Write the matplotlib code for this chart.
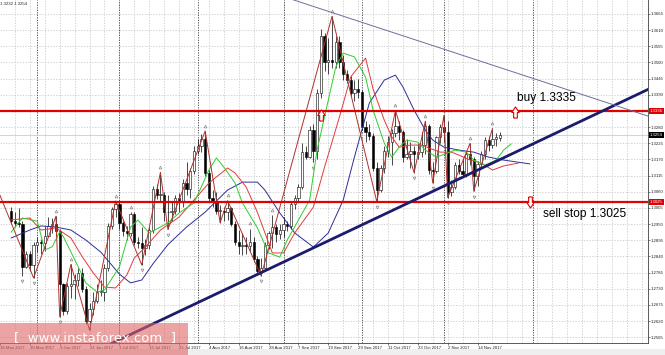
import numpy as np
import matplotlib

matplotlib.use("Agg")
import matplotlib.pyplot as plt
from matplotlib.path import Path
from matplotlib.patches import Rectangle
import matplotlib.transforms as mtransforms

# --- daily candles, 23 May 2017 .. 22 Nov 2017 (bar index 0..131) ---
opens = [1.2995, 1.2960, 1.2955, 1.2950, 1.2805, 1.2850, 1.2810, 1.2880, 1.2890, 1.2885,
         1.2910, 1.2945, 1.2950, 1.2925, 1.2745, 1.2655, 1.2740, 1.2745, 1.2760, 1.2785,
         1.2730, 1.2620, 1.2660, 1.2690, 1.2720, 1.2720, 1.2800, 1.2945, 1.3000, 1.3020,
         1.2955, 1.2925, 1.2920, 1.2985, 1.2890, 1.2885, 1.2870, 1.2880, 1.2930, 1.3070,
         1.3050, 1.3050, 1.2990, 1.2990, 1.2995, 1.3040, 1.3030, 1.3090, 1.3070, 1.3130,
         1.3200, 1.3215, 1.3240, 1.3125, 1.3040, 1.3030, 1.2995, 1.2995, 1.2990, 1.3005,
         1.2950, 1.2890, 1.2875, 1.2880, 1.2875, 1.2890, 1.2830, 1.2790, 1.2800, 1.2880,
         1.2920, 1.2940, 1.2915, 1.2930, 1.2950, 1.2945, 1.3020, 1.3040, 1.3075, 1.3195,
         1.3180, 1.3270, 1.3200, 1.3395, 1.3590, 1.3500, 1.3510, 1.3500, 1.3570, 1.3500,
         1.3460, 1.3440, 1.3395, 1.3410, 1.3400, 1.3280, 1.3265, 1.3250, 1.3140, 1.3065,
         1.3140, 1.3200, 1.3230, 1.3260, 1.3285, 1.3265, 1.3180, 1.3190, 1.3200, 1.3190,
         1.3195, 1.3220, 1.3285, 1.3135, 1.3130, 1.3245, 1.3280, 1.3265, 1.3060, 1.3075,
         1.3150, 1.3130, 1.3120, 1.3190, 1.3170, 1.3115, 1.3155, 1.3190, 1.3235, 1.3220,
         1.3240, 1.3244]
highs = [1.3010, 1.2990, 1.3005, 1.2960, 1.2860, 1.2860, 1.2890, 1.2905, 1.2900, 1.2945,
         1.2975, 1.2970, 1.2977, 1.2935, 1.2750, 1.2750, 1.2813, 1.2780, 1.2800, 1.2800,
         1.2740, 1.2680, 1.2720, 1.2745, 1.2760, 1.2815, 1.2955, 1.3010, 1.3029, 1.3030,
         1.2960, 1.2945, 1.2992, 1.2990, 1.2905, 1.2940, 1.2900, 1.2940, 1.3080, 1.3085,
         1.3126, 1.3060, 1.3050, 1.3030, 1.3050, 1.3055, 1.3105, 1.3160, 1.3140, 1.3215,
         1.3240, 1.3255, 1.3267, 1.3135, 1.3065, 1.3060, 1.3015, 1.3010, 1.3030, 1.3010,
         1.2960, 1.2930, 1.2920, 1.2905, 1.2935, 1.2905, 1.2840, 1.2835, 1.2890, 1.2925,
         1.2980, 1.2950, 1.2950, 1.2975, 1.2960, 1.3025, 1.3050, 1.3085, 1.3225, 1.3215,
         1.3285, 1.3290, 1.3410, 1.3615, 1.3600, 1.3585, 1.3657, 1.3590, 1.3590, 1.3525,
         1.3475, 1.3455, 1.3440, 1.3445, 1.3405, 1.3300, 1.3290, 1.3260, 1.3160, 1.3150,
         1.3215, 1.3250, 1.3275, 1.3337, 1.3300, 1.3270, 1.3240, 1.3230, 1.3215, 1.3225,
         1.3265, 1.3300, 1.3290, 1.3160, 1.3250, 1.3290, 1.3320, 1.3300, 1.3100, 1.3160,
         1.3170, 1.3175, 1.3200, 1.3225, 1.3180, 1.3165, 1.3200, 1.3245, 1.3250, 1.3275,
         1.3260, 1.3264]
lows = [1.2950, 1.2940, 1.2940, 1.2775, 1.2800, 1.2790, 1.2767, 1.2855, 1.2850, 1.2860,
        1.2905, 1.2920, 1.2910, 1.2635, 1.2640, 1.2645, 1.2700, 1.2695, 1.2740, 1.2720,
        1.2610, 1.2589, 1.2640, 1.2680, 1.2705, 1.2690, 1.2790, 1.2935, 1.2975, 1.2935,
        1.2910, 1.2895, 1.2910, 1.2880, 1.2870, 1.2811, 1.2845, 1.2865, 1.2920, 1.3035,
        1.3030, 1.2960, 1.2932, 1.2960, 1.2985, 1.2990, 1.3010, 1.3050, 1.3040, 1.3120,
        1.3190, 1.3195, 1.3115, 1.3030, 1.3010, 1.2985, 1.2955, 1.2960, 1.2965, 1.2945,
        1.2880, 1.2850, 1.2845, 1.2850, 1.2860, 1.2820, 1.2776, 1.2774, 1.2790, 1.2865,
        1.2870, 1.2890, 1.2900, 1.2905, 1.2925, 1.2935, 1.3000, 1.3030, 1.3070, 1.3170,
        1.3175, 1.3160, 1.3170, 1.3380, 1.3470, 1.3460, 1.3480, 1.3480, 1.3480, 1.3440,
        1.3430, 1.3385, 1.3370, 1.3380, 1.3270, 1.3230, 1.3235, 1.3130, 1.3027, 1.3060,
        1.3125, 1.3180, 1.3150, 1.3245, 1.3235, 1.3160, 1.3170, 1.3140, 1.3125, 1.3170,
        1.3180, 1.3190, 1.3120, 1.3090, 1.3125, 1.3225, 1.3230, 1.3040, 1.3045, 1.3070,
        1.3120, 1.3110, 1.3110, 1.3150, 1.3062, 1.3080, 1.3140, 1.3170, 1.3200, 1.3210,
        1.3215, 1.3232]
closes = [1.2960, 1.2955, 1.2950, 1.2805, 1.2850, 1.2810, 1.2880, 1.2890, 1.2885, 1.2910,
          1.2945, 1.2950, 1.2925, 1.2745, 1.2655, 1.2740, 1.2745, 1.2760, 1.2785, 1.2730,
          1.2620, 1.2660, 1.2690, 1.2720, 1.2720, 1.2800, 1.2945, 1.3000, 1.3020, 1.2955,
          1.2925, 1.2920, 1.2985, 1.2890, 1.2885, 1.2870, 1.2880, 1.2930, 1.3070, 1.3050,
          1.3050, 1.2990, 1.2990, 1.2995, 1.3040, 1.3030, 1.3090, 1.3070, 1.3130, 1.3200,
          1.3215, 1.3240, 1.3125, 1.3040, 1.3030, 1.2995, 1.2995, 1.2990, 1.3005, 1.2950,
          1.2890, 1.2875, 1.2880, 1.2875, 1.2890, 1.2830, 1.2790, 1.2800, 1.2880, 1.2920,
          1.2940, 1.2915, 1.2930, 1.2950, 1.2945, 1.3020, 1.3040, 1.3075, 1.3195, 1.3180,
          1.3270, 1.3200, 1.3395, 1.3590, 1.3500, 1.3510, 1.3500, 1.3570, 1.3500, 1.3460,
          1.3440, 1.3395, 1.3410, 1.3400, 1.3280, 1.3265, 1.3250, 1.3140, 1.3065, 1.3140,
          1.3200, 1.3230, 1.3260, 1.3285, 1.3265, 1.3180, 1.3190, 1.3200, 1.3190, 1.3195,
          1.3220, 1.3285, 1.3135, 1.3130, 1.3245, 1.3280, 1.3265, 1.3060, 1.3075, 1.3150,
          1.3130, 1.3120, 1.3190, 1.3170, 1.3115, 1.3155, 1.3190, 1.3235, 1.3220, 1.3240,
          1.3245, 1.3254]

# --- alligator lines ---
jaw_bars = [0, 5, 8, 12, 16, 20, 24, 26, 29, 32, 35, 38, 42, 47, 52, 58, 62, 66, 68, 72,
            76, 81, 85, 89, 92, 96, 100, 103, 105, 108, 111, 113, 116, 120, 124, 128, 132, 139]
jaw = [1.2903, 1.2930, 1.2944, 1.2940, 1.2930, 1.2896, 1.2855, 1.2825, 1.2780, 1.2750,
       1.2760, 1.2815, 1.2880, 1.2940, 1.2991, 1.3066, 1.3093, 1.3093, 1.3066, 1.2988,
       1.2920, 1.2872, 1.2920, 1.3032, 1.3178, 1.3362, 1.3440, 1.3457, 1.3417, 1.3338,
       1.3270, 1.3236, 1.3212, 1.3202, 1.3195, 1.3178, 1.3168, 1.3155]
teeth_bars = [0, 5, 8, 12, 16, 19, 22, 25, 28, 31, 33, 36, 40, 45, 49, 53, 58, 60, 63, 66,
              70, 73, 76, 81, 84, 88, 91, 95, 97, 100, 102, 104, 107, 110, 112, 115, 118,
              120, 123, 126, 129, 132, 136]
teeth = [1.2964, 1.2971, 1.2930, 1.2937, 1.2903, 1.2840, 1.2784, 1.2736, 1.2733, 1.2777,
         1.2835, 1.2872, 1.2930, 1.2974, 1.3032, 1.3090, 1.3141, 1.3124, 1.3076, 1.2990,
         1.2852, 1.2852, 1.2920, 1.3008, 1.3144, 1.3315, 1.3451, 1.3515, 1.3410, 1.3304,
         1.3247, 1.3212, 1.3219, 1.3219, 1.3209, 1.3195, 1.3195, 1.3185, 1.3168, 1.3158,
         1.3134, 1.3148, 1.3158]
lips_bars = [0, 3, 7, 9, 11, 13, 14, 18, 20, 23, 25, 29, 32, 34, 37, 42, 45, 49, 53, 55,
             57, 60, 62, 66, 69, 72, 74, 80, 82, 85, 87, 89, 92, 95, 97, 100, 102, 104, 106,
             109, 111, 114, 117, 119, 122, 124, 127, 130, 132, 134]
lips = [1.2923, 1.2971, 1.2960, 1.2862, 1.2873, 1.2924, 1.2907, 1.2804, 1.2750, 1.2719,
        1.2726, 1.2804, 1.2940, 1.2964, 1.2920, 1.2954, 1.2988, 1.3022, 1.3134, 1.3175,
        1.3144, 1.3090, 1.3022, 1.2937, 1.2852, 1.2838, 1.2896, 1.3032, 1.3202, 1.3372,
        1.3485, 1.3532, 1.3519, 1.3450, 1.3338, 1.3226, 1.3178, 1.3212, 1.3236, 1.3229,
        1.3202, 1.3178, 1.3192, 1.3202, 1.3195, 1.3168, 1.3151, 1.3168, 1.3202, 1.3223]

# --- zigzag and fractals ---
zz_bars = [-3, 6, 12, 13, 16, 21, 28, 35, 40, 42, 52, 56, 58, 67, 86, 98, 103, 108, 111,
           113, 116, 117, 123, 124, 129]
zz_prices = [1.3048, 1.2767, 1.2977, 1.2635, 1.2813, 1.2589, 1.3029, 1.2811, 1.3126, 1.2932,
             1.3267, 1.2955, 1.3030, 1.2774, 1.3657, 1.3027, 1.3337, 1.3125, 1.3300, 1.3090,
             1.3320, 1.3040, 1.3225, 1.3062, 1.3275]
fractal_up = [12, 16, 28, 32, 40, 52, 58, 64, 70, 86, 103, 111, 116, 123, 129]
fractal_down = [3, 6, 13, 21, 35, 42, 67, 81, 98, 108, 113, 117, 124]

# --- objects ---
buy_level = 1.3335
sell_level = 1.3025
bid = 1.3254
support_bars = [26, 175]
support_prices = [1.25386, 1.34342]
resist_bars = [75, 172]
resist_prices = [1.37157, 1.33122]
up_arrow_bars = [83, 135]
up_arrow_prices = [1.3323, 1.3333]
down_arrow_bars = [139]
down_arrow_prices = [1.3025]

label_bars = [-3, 5, 13, 21, 29, 37, 45, 53, 61, 69, 77, 85, 93, 101, 109, 117, 125]
date_labels = ["18 May 2017", "30 May 2017", "9 Jun 2017", "21 Jun 2017", "3 Jul 2017",
               "13 Jul 2017", "25 Jul 2017", "4 Aug 2017", "16 Aug 2017", "28 Aug 2017",
               "7 Sep 2017", "19 Sep 2017", "29 Sep 2017", "11 Oct 2017", "23 Oct 2017",
               "2 Nov 2017", "14 Nov 2017"]
month_bars = [7, 29, 50, 73, 94, 116, 140]
price_ticks = [1.2565 + 0.0055 * k for k in range(21)]

o = np.array(opens)
h = np.array(highs)
l = np.array(lows)
c = np.array(closes)
x = np.arange(len(o))

small = dict(fontsize=3.1, family="Liberation Sans")

fig = plt.figure(figsize=(6.65, 3.55), dpi=100)
ax = fig.add_axes([0, 12 / 355, 648 / 665, 343 / 355])
ax.set_xlim(-0.28, 170.7)
ax.set_ylim(1.25456, 1.37126)

# grid
for yv in price_ticks:
    ax.axhline(yv, color="#c4c4c4", lw=0.5, ls=(0, (2, 2)), zorder=0)
for xv in range(1, 171, 4):
    ax.axvline(xv, color="#c4c4c4", lw=0.5, ls=(0, (2, 2)), zorder=0)
for xv in month_bars:
    ax.axvline(xv, color="#3c3c3c", lw=0.6, ls=(0, (1.5, 1.5)), zorder=0.5)

ax.axhline(bid, color="#cccccc", lw=0.6, zorder=1)

# candles
ax.vlines(x, l, h, color="black", lw=0.5, zorder=3)
body_low = np.minimum(o, c)
body_h = np.maximum(np.abs(c - o), 0.00015)
colors = np.where(c >= o, "white", "black")
ax.bar(x, body_h, bottom=body_low, width=0.62, color=colors, edgecolor="black",
       linewidth=0.4, zorder=3.5)

# alligator + zigzag
ax.plot(jaw_bars, jaw, color="#2d2d9c", lw=0.7, zorder=4)
ax.plot(teeth_bars, teeth, color="#e23a3a", lw=0.7, zorder=4)
ax.plot(lips_bars, lips, color="#2fcc2f", lw=0.7, zorder=4)
ax.plot(zz_bars, zz_prices, color="#b0302a", lw=0.7, zorder=4.2)

ax.plot(fractal_up, h[fractal_up] + 0.0018, ls="none", marker="^", ms=2.0,
        mfc="none", mec="#8c8c8c", mew=0.5, zorder=4)
ax.plot(fractal_down, l[fractal_down] - 0.0018, ls="none", marker="v", ms=2.0,
        mfc="none", mec="#8c8c8c", mew=0.5, zorder=4)

# levels and trendlines
ax.axhline(buy_level, color="#e00000", lw=1.6, zorder=6)
ax.axhline(sell_level, color="#e00000", lw=1.6, zorder=6)
ax.plot(support_bars, support_prices, color="#1c1c6c", lw=2.0, zorder=6,
        solid_capstyle="butt")
ax.plot(resist_bars, resist_prices, color="#6e6e9a", lw=0.7, zorder=6)

up_path = Path([(-0.2, -0.6), (0.2, -0.6), (0.2, 0.0), (0.4, 0.0), (0.0, 0.6),
                (-0.4, 0.0), (-0.2, 0.0), (-0.2, -0.6)])
down_path = Path([(x_, -y_) for x_, y_ in up_path.vertices])
ax.plot(up_arrow_bars, up_arrow_prices, ls="none", marker=up_path, ms=8,
        mfc="white", mec="#e00000", mew=0.8, zorder=7)
ax.plot(down_arrow_bars, down_arrow_prices, ls="none", marker=down_path, ms=8,
        mfc="white", mec="#e00000", mew=0.8, zorder=7)

ax.text(135.5, 1.3378, "buy 1.3335", fontsize=8.6, family="Liberation Sans",
        ha="left", va="center", zorder=8)
ax.text(142.5, 1.2983, "sell stop 1.3025", fontsize=8.6, family="Liberation Sans",
        ha="left", va="center", zorder=8)

# axes
for side in ("left", "top"):
    ax.spines[side].set_visible(False)
for side in ("right", "bottom"):
    ax.spines[side].set_color("#404040")
    ax.spines[side].set_linewidth(0.6)
ax.yaxis.tick_right()
ax.set_yticks(price_ticks)
# the 1.3335 tick label sits under the red level box
ax.set_yticklabels(["" if abs(v - buy_level) < 1e-6 else f"{v:.4f}" for v in price_ticks],
                   **small)
ax.set_xticks(label_bars)
ax.set_xticklabels(date_labels, ha="left", **small)
ax.tick_params(axis="both", length=1.5, width=0.4, pad=0.6, colors="#202020")

yt = mtransforms.blended_transform_factory(ax.transAxes, ax.transData)
for val, txt, bg in [(1.3336, "1.3336", "#e00000"), (bid, "1.3254", "black"),
                     (sell_level, "1.3025", "#e00000")]:
    ax.text(1.003, val, txt, transform=yt, color="white", ha="left", va="center",
            bbox=dict(boxstyle="square,pad=0.2", fc=bg, ec="none"), zorder=9,
            clip_on=False, **small)

ax.text(0.0, 0.993, "1.3232 1.3254", transform=ax.transAxes, ha="left", va="top",
        color="#202020", **small)

# tab strip and watermark
fig.patches.append(Rectangle((0, 0), 1, 6 / 355, transform=fig.transFigure,
                             fc="#efefef", ec="none", zorder=9))
fig.patches.append(Rectangle((0, 0), 188 / 665, 32 / 355, transform=fig.transFigure,
                             fc="#e06666", alpha=0.6, ec="none", zorder=10))
fig.text(95 / 665, 17 / 355, "[  www.instaforex.com  ]", color="white", fontsize=9.5,
         ha="center", va="center", zorder=11)

fig.savefig("out.png", dpi=100)
